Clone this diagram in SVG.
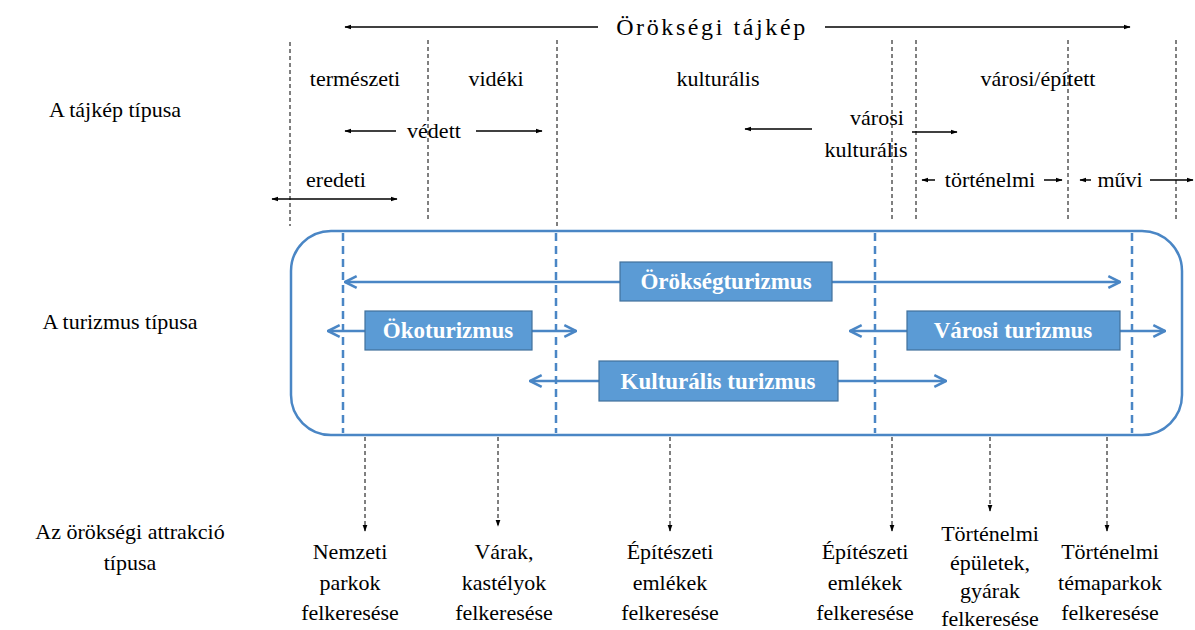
<svg xmlns="http://www.w3.org/2000/svg" width="1195" height="630" viewBox="0 0 1195 630">
  <defs>
    <marker id="ah" viewBox="0 0 10 10" refX="9" refY="5" markerWidth="7" markerHeight="7" orient="auto-start-reverse" markerUnits="userSpaceOnUse">
      <path d="M0,1.5 L10,5 L0,8.5 Z" fill="#000"/>
    </marker>
    <marker id="bh" viewBox="0 0 12 12" refX="11" refY="6" markerWidth="14" markerHeight="14" orient="auto-start-reverse" markerUnits="userSpaceOnUse">
      <path d="M1,1 L11,6 L1,11" fill="none" stroke="#4a86c5" stroke-width="2.2"/>
    </marker>
    <style>
      .vd { stroke: #000; stroke-width: 1; stroke-dasharray: 4 3; fill: none; }
      .ar { stroke: #000; stroke-width: 1.5; fill: none; }
      .bd { stroke: #4a86c5; stroke-width: 2.5; stroke-dasharray: 8 5; fill: none; }
      .ba { stroke: #4a86c5; stroke-width: 2.5; fill: none; }
      .bx { fill: #5b9bd5; stroke: #41719c; stroke-width: 1.2; }
      .dn { stroke: #000; stroke-width: 1; stroke-dasharray: 4 3; fill: none; }
    </style>
  </defs>

  <!-- row headings -->
  <g id="headings" text-anchor="middle">
    <text x="115" y="117" font-family="Liberation Serif" font-size="22">A tájkép típusa</text>
    <text x="120" y="329" font-family="Liberation Serif" font-size="22">A turizmus típusa</text>
    <text x="130" y="539" font-family="Liberation Serif" font-size="22">Az örökségi attrakció</text>
    <text x="130" y="570" font-family="Liberation Serif" font-size="22">típusa</text>
  </g>

  <!-- landscape boundaries -->
  <g id="landscape-dividers">
    <line class="vd" x1="290" y1="42" x2="290" y2="226"/>
    <line class="vd" x1="428" y1="40" x2="428" y2="220"/>
    <line class="vd" x1="557" y1="40" x2="557" y2="226"/>
    <line class="vd" x1="892" y1="40" x2="892" y2="220"/>
    <line class="vd" x1="916" y1="40" x2="916" y2="220"/>
    <line class="vd" x1="1068" y1="40" x2="1068" y2="220"/>
    <line class="vd" x1="1176" y1="40" x2="1176" y2="220"/>
  </g>

  <!-- heritage landscape heading -->
  <g id="heritage-landscape" text-anchor="middle">
    <line class="ar" x1="598" y1="27" x2="345" y2="27" marker-end="url(#ah)"/>
    <line class="ar" x1="825" y1="27" x2="1130" y2="27" marker-end="url(#ah)"/>
    <text x="712" y="35" font-family="Liberation Serif" font-size="24" letter-spacing="2.6">Örökségi tájkép</text>
  </g>

  <g id="landscape-types" text-anchor="middle">
    <text x="355" y="86" font-family="Liberation Serif" font-size="22">természeti</text>
    <text x="496" y="86" font-family="Liberation Serif" font-size="22">vidéki</text>
    <text x="718" y="86" font-family="Liberation Serif" font-size="22">kulturális</text>
    <text x="1038" y="86" font-family="Liberation Serif" font-size="22">városi/épített</text>
  </g>

  <g id="vedett" text-anchor="middle">
    <line class="ar" x1="396" y1="131" x2="345" y2="131" marker-end="url(#ah)"/>
    <line class="ar" x1="476" y1="131" x2="542" y2="131" marker-end="url(#ah)"/>
    <text x="434" y="138" font-family="Liberation Serif" font-size="22">védett</text>
  </g>

  <g id="varosi-kulturalis" text-anchor="middle">
    <line class="ar" x1="812" y1="129" x2="745" y2="129" marker-end="url(#ah)"/>
    <line class="ar" x1="912" y1="132" x2="957" y2="132" marker-end="url(#ah)"/>
    <text x="877" y="125" font-family="Liberation Serif" font-size="22">városi</text>
    <text x="866" y="157" font-family="Liberation Serif" font-size="22">kulturális</text>
  </g>

  <g id="eredeti" text-anchor="middle">
    <line class="ar" x1="272" y1="199" x2="397" y2="199" marker-start="url(#ah)" marker-end="url(#ah)"/>
    <text x="336" y="187" font-family="Liberation Serif" font-size="22">eredeti</text>
  </g>

  <g id="tortenelmi" text-anchor="middle">
    <line class="ar" x1="935" y1="180" x2="922" y2="180" marker-end="url(#ah)"/>
    <line class="ar" x1="1044" y1="180" x2="1062" y2="180" marker-end="url(#ah)"/>
    <text x="990" y="187" font-family="Liberation Serif" font-size="22">történelmi</text>
  </g>

  <g id="muvi" text-anchor="middle">
    <line class="ar" x1="1091" y1="180" x2="1080" y2="180" marker-end="url(#ah)"/>
    <line class="ar" x1="1150" y1="180" x2="1193" y2="180" marker-end="url(#ah)"/>
    <text x="1120" y="187" font-family="Liberation Serif" font-size="22">művi</text>
  </g>

  <!-- tourism frame -->
  <g id="tourism-frame">
    <rect x="291" y="231" width="891" height="204" rx="40" ry="40" fill="none" stroke="#4a86c5" stroke-width="2.5"/>
    <line class="bd" x1="343" y1="233" x2="343" y2="433"/>
    <line class="bd" x1="556" y1="233" x2="556" y2="433"/>
    <line class="bd" x1="875" y1="233" x2="875" y2="433"/>
    <line class="bd" x1="1132" y1="233" x2="1132" y2="433"/>
  </g>

  <!-- tourism range arrows and attraction pointers -->
  <g id="connectors">
    <line class="ba" x1="620" y1="282" x2="345" y2="282" marker-end="url(#bh)"/>
    <line class="ba" x1="832" y1="282" x2="1120" y2="282" marker-end="url(#bh)"/>
    <line class="ba" x1="365" y1="331" x2="328" y2="331" marker-end="url(#bh)"/>
    <line class="ba" x1="532" y1="331" x2="576" y2="331" marker-end="url(#bh)"/>
    <line class="ba" x1="907" y1="331" x2="850" y2="331" marker-end="url(#bh)"/>
    <line class="ba" x1="1120" y1="331" x2="1165" y2="331" marker-end="url(#bh)"/>
    <line class="ba" x1="599" y1="381" x2="530" y2="381" marker-end="url(#bh)"/>
    <line class="ba" x1="838" y1="381" x2="946" y2="381" marker-end="url(#bh)"/>

    <line class="dn" x1="365" y1="437" x2="365" y2="531" marker-end="url(#ah)"/>
    <line class="dn" x1="498" y1="437" x2="498" y2="526" marker-end="url(#ah)"/>
    <line class="dn" x1="670" y1="437" x2="670" y2="531" marker-end="url(#ah)"/>
    <line class="dn" x1="892" y1="437" x2="892" y2="531" marker-end="url(#ah)"/>
    <line class="dn" x1="990" y1="437" x2="990" y2="511" marker-end="url(#ah)"/>
    <line class="dn" x1="1107" y1="437" x2="1107" y2="531" marker-end="url(#ah)"/>
  </g>

  <g id="orokseg-turizmus" text-anchor="middle">
    <rect class="bx" x="620" y="262" width="212" height="39"/>
    <text x="726" y="289" fill="#fff" font-family="Liberation Serif" font-size="23" font-weight="bold">Örökségturizmus</text>
  </g>
  <g id="okoturizmus" text-anchor="middle">
    <rect class="bx" x="365" y="311" width="167" height="39"/>
    <text x="448" y="338" fill="#fff" font-family="Liberation Serif" font-size="23" font-weight="bold">Ökoturizmus</text>
  </g>
  <g id="varosi-turizmus" text-anchor="middle">
    <rect class="bx" x="907" y="311" width="213" height="39"/>
    <text x="1013" y="338" fill="#fff" font-family="Liberation Serif" font-size="23" font-weight="bold">Városi turizmus</text>
  </g>
  <g id="kulturalis-turizmus" text-anchor="middle">
    <rect class="bx" x="599" y="361" width="239" height="40"/>
    <text x="718" y="389" fill="#fff" font-family="Liberation Serif" font-size="23" font-weight="bold">Kulturális turizmus</text>
  </g>

  <!-- attraction types -->
  <g id="nemzeti-parkok" text-anchor="middle">
    <text x="350" y="559" font-family="Liberation Serif" font-size="22">Nemzeti</text>
    <text x="350" y="590" font-family="Liberation Serif" font-size="22">parkok</text>
    <text x="350" y="620" font-family="Liberation Serif" font-size="22">felkeresése</text>
  </g>
  <g id="varak" text-anchor="middle">
    <text x="504" y="559" font-family="Liberation Serif" font-size="22">Várak,</text>
    <text x="504" y="590" font-family="Liberation Serif" font-size="22">kastélyok</text>
    <text x="504" y="620" font-family="Liberation Serif" font-size="22">felkeresése</text>
  </g>
  <g id="epiteszeti-1" text-anchor="middle">
    <text x="670" y="559" font-family="Liberation Serif" font-size="22">Építészeti</text>
    <text x="670" y="590" font-family="Liberation Serif" font-size="22">emlékek</text>
    <text x="670" y="620" font-family="Liberation Serif" font-size="22">felkeresése</text>
  </g>
  <g id="epiteszeti-2" text-anchor="middle">
    <text x="865" y="559" font-family="Liberation Serif" font-size="22">Építészeti</text>
    <text x="865" y="590" font-family="Liberation Serif" font-size="22">emlékek</text>
    <text x="865" y="620" font-family="Liberation Serif" font-size="22">felkeresése</text>
  </g>
  <g id="tortenelmi-epuletek" text-anchor="middle">
    <text x="990" y="541" font-family="Liberation Serif" font-size="22">Történelmi</text>
    <text x="990" y="570" font-family="Liberation Serif" font-size="22">épületek,</text>
    <text x="990" y="598" font-family="Liberation Serif" font-size="22">gyárak</text>
    <text x="990" y="626" font-family="Liberation Serif" font-size="22">felkeresése</text>
  </g>
  <g id="temaparkok" text-anchor="middle">
    <text x="1110" y="559" font-family="Liberation Serif" font-size="22">Történelmi</text>
    <text x="1110" y="590" font-family="Liberation Serif" font-size="22">témaparkok</text>
    <text x="1110" y="620" font-family="Liberation Serif" font-size="22">felkeresése</text>
  </g>
</svg>
